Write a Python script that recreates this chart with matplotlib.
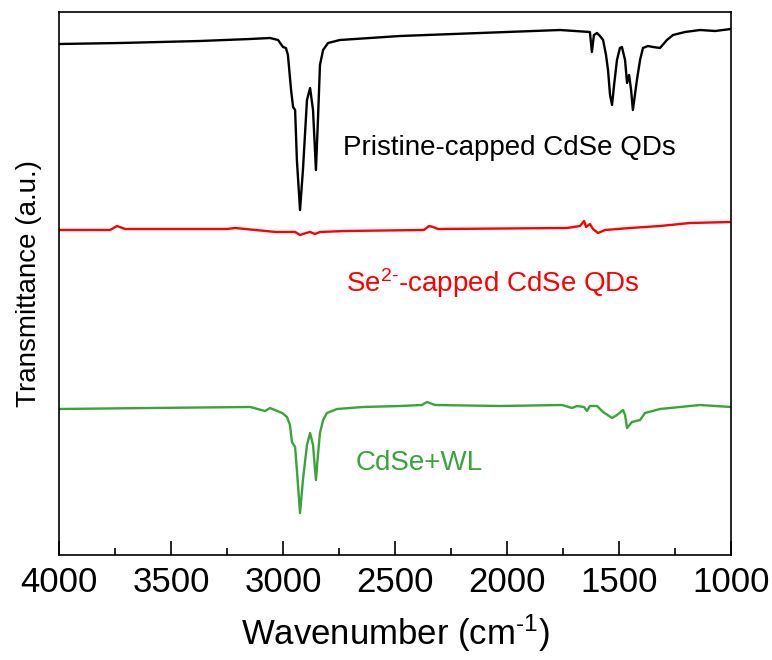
import matplotlib
matplotlib.use("Agg")
import matplotlib.pyplot as plt
from matplotlib.ticker import MultipleLocator

plt.rcParams['font.family'] = ['Liberation Sans', 'DejaVu Sans']
plt.rcParams['mathtext.fontset'] = 'custom'
plt.rcParams['mathtext.rm'] = 'Liberation Sans'
plt.rcParams['mathtext.it'] = 'Liberation Sans:italic'
plt.rcParams['mathtext.bf'] = 'Liberation Sans:bold'

# Pristine-capped CdSe QDs (black)
w_black = [4000, 3728, 3371, 3147, 3058, 3022, 3000, 2987, 2978, 2964, 2955, 2946, 2938,
           2924, 2911, 2893, 2879, 2866, 2853, 2844, 2835, 2821, 2799, 2746, 2478, 2121,
           1763, 1630, 1621, 1612, 1598, 1585, 1571, 1558, 1549, 1540, 1531, 1522, 1509,
           1496, 1487, 1473, 1464, 1455, 1446, 1438, 1429, 1420, 1406, 1393, 1371, 1348,
           1317, 1286, 1259, 1205, 1138, 1071, 1000]
t_black = [511, 512, 514, 516, 517, 515, 508, 507, 500, 465, 448, 445, 395,
           345, 385, 455, 467, 445, 385, 435, 490, 505, 512, 515, 519, 522,
           525, 523, 503, 520, 522, 519, 515, 500, 485, 460, 450, 470, 495,
           507, 508, 495, 472, 480, 465, 445, 460, 475, 495, 507, 509, 508,
           507, 515, 520, 523, 525, 524, 526]

# Se2--capped CdSe QDs (red)
w_red = [4000, 3772, 3741, 3705, 3250, 3214, 3031, 2946, 2924, 2897, 2879, 2857, 2835,
         2723, 2371, 2348, 2330, 2308, 1732, 1674, 1656, 1647, 1630, 1616, 1594, 1562,
         1451, 1317, 1183, 1000]
t_red = [325, 325, 329, 326, 326, 327, 323, 323, 320, 322, 323, 321, 323,
         324, 325, 329, 328, 326, 327, 329, 334, 328, 331, 326, 322, 325,
         327, 329, 332, 333]

# CdSe+WL (green)
w_green = [4000, 3594, 3147, 3080, 3058, 3004, 2982, 2969, 2960, 2946, 2938, 2924, 2911,
           2893, 2879, 2866, 2853, 2844, 2835, 2821, 2804, 2759, 2643, 2478, 2380, 2357,
           2321, 2031, 1754, 1710, 1688, 1656, 1643, 1630, 1598, 1571, 1531, 1509, 1482,
           1473, 1464, 1442, 1406, 1384, 1317, 1138, 1000]
t_green = [146, 147, 148, 144, 147, 142, 138, 130, 113, 108, 85, 42, 75,
           110, 122, 110, 75, 100, 122, 135, 142, 146, 148, 149, 150, 153,
           150, 149, 150, 147, 149, 148, 144, 149, 149, 143, 137, 140, 145,
           140, 127, 133, 135, 142, 146, 150, 148]

labels = ["Pristine-capped CdSe QDs", "Se$^{2\u2010}$-capped CdSe QDs", "CdSe+WL"]
label_pos = [(2732, 407), (2719, 272), (2674, 92)]
colors = ["black", "#ff0000", "#3aa33a"]

fig = plt.figure(figsize=(7.72, 6.60), dpi=100)
ax = fig.add_axes([59/772, 105/660, 672/772, 543/660])

for w, t, c in zip([w_black, w_red, w_green], [t_black, t_red, t_green], colors):
    ax.plot(w, t, color=c, lw=1.7)

for (x, y), s, c in zip(label_pos, labels, colors):
    ax.text(x, y, s, color=c, fontsize=20, ha='left', va='center')

ax.set_xlim(4000, 1000)
ax.set_ylim(0, 543)
ax.xaxis.set_major_locator(MultipleLocator(500))
ax.xaxis.set_minor_locator(MultipleLocator(250))
ax.tick_params(axis='x', which='major', direction='in', length=10, width=1.2, labelsize=25, pad=8)
ax.tick_params(axis='x', which='minor', direction='in', length=5, width=1.2)
ax.set_yticks([])
for sp in ax.spines.values():
    sp.set_linewidth(1.2)
ax.set_xlabel("Wavenumber (cm$^{\u20101}$)", fontsize=25, labelpad=10)
ax.set_ylabel("Transmittance (a.u.)", fontsize=20, labelpad=12)

fig.savefig("out.png", dpi=100)
